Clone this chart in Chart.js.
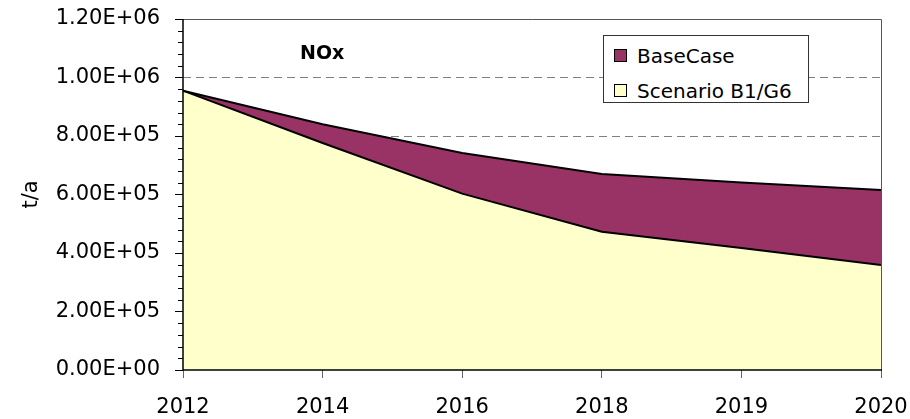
<!DOCTYPE html>
<html>
<head>
<meta charset="utf-8">
<script src="https://cdn.jsdelivr.net/npm/chart.js@4/dist/chart.umd.min.js"></script>
<style>
  body { margin: 0; background: #fff; }
  .wrap { position: relative; width: 910px; height: 419px; font-family: 'DejaVu Sans', Verdana, sans-serif; }
  .note { position: absolute; left: 300px; top: 41px; font-size: 19px; font-weight: bold; }
  .legend { position: absolute; left: 603px; top: 35px; width: 204px; height: 66px; background: #fff; border: 1px solid #333; }
  .legend div { position: absolute; left: 10px; font-size: 20px; line-height: 24px; white-space: nowrap; }
  .legend span { display: inline-block; width: 11px; height: 11px; border: 1px solid #000; margin-right: 10px; vertical-align: 1px; }
</style>
</head>
<body>
<div class="wrap">
  <canvas id="noxChart" width="910" height="419"></canvas>
  <div class="note">NOx</div>
  <div class="legend" id="legend"></div>
</div>
<script>
const years = ['2012', '2014', '2016', '2018', '2019', '2020'];
const baseCase = [955000, 840000, 742000, 670000, 641000, 615000];
const scenario = [955000, 776000, 603000, 473000, 417000, 359000];
const yTickLabels = ['0.00E+00', '2.00E+05', '4.00E+05', '6.00E+05', '8.00E+05', '1.00E+06', '1.20E+06'];

const seriesNames = ['BaseCase', 'Scenario B1/G6'];
const seriesColors = ['#993366', '#FFFFCC'];

// minor ticks + plot frame drawn over the areas
const framePlugin = {
  id: 'frame',
  afterDatasetsDraw(chart) {
    const { ctx, chartArea: a, scales: { y } } = chart;
    ctx.save();
    ctx.lineWidth = 1;
    ctx.strokeStyle = '#555';
    ctx.beginPath();
    ctx.moveTo(a.left, a.top + 0.5);
    ctx.lineTo(a.right + 0.5, a.top + 0.5);
    ctx.lineTo(a.right + 0.5, a.bottom);
    ctx.stroke();
    ctx.strokeStyle = '#000';
    ctx.lineWidth = 1.5;
    ctx.beginPath();
    ctx.moveTo(a.left, a.top);
    ctx.lineTo(a.left, a.bottom);
    ctx.lineTo(a.right + 1, a.bottom);
    ctx.stroke();
    ctx.lineWidth = 1;
    ctx.beginPath();
    for (let v = 0; v <= y.max; v += 40000) {
      if (v % 200000 === 0) continue;
      const py = Math.round(y.getPixelForValue(v)) + 0.5;
      ctx.moveTo(a.left - 5, py);
      ctx.lineTo(a.left, py);
    }
    ctx.stroke();
    ctx.restore();
  }
};

const chart = new Chart(document.getElementById('noxChart'), {
  type: 'line',
  data: {
    labels: years,
    datasets: [
      { label: seriesNames[0], data: baseCase, backgroundColor: seriesColors[0], borderColor: '#000', borderWidth: 2, pointRadius: 0, fill: '+1', tension: 0 },
      { label: seriesNames[1], data: scenario, backgroundColor: seriesColors[1], borderColor: '#000', borderWidth: 2, pointRadius: 0, fill: 'origin', tension: 0 }
    ]
  },
  options: {
    responsive: false,
    animation: false,
    layout: { padding: { top: 19, right: 29, left: 0, bottom: 0 } },
    plugins: { legend: { display: false }, tooltip: { enabled: false }, filler: { drawTime: 'beforeDatasetsDraw' } },
    scales: {
      x: {
        offset: false,
        grid: { drawOnChartArea: false, tickLength: 8, tickColor: '#666' },
        border: { display: false },
        ticks: { color: '#000', font: { family: 'DejaVu Sans', size: 21 }, padding: 17, maxRotation: 0, autoSkip: false },
        afterFit: (s) => { s.height = 49; s.paddingLeft = 0; s.paddingRight = 0; }
      },
      y: {
        min: 0,
        max: 1200000,
        grid: { color: (c) => (c.tick.value > 0 && c.tick.value < 1200000 ? '#808080' : 'rgba(0,0,0,0)'), tickColor: '#000', tickLength: 8, lineWidth: 1 },
        border: { display: false, dash: [8, 5] },
        ticks: { stepSize: 200000, color: '#000', font: { family: 'DejaVu Sans', size: 21 }, padding: 15, callback: (v, i) => yTickLabels[i] },
        title: { display: true, text: 't/a', color: '#000', font: { family: 'DejaVu Sans', size: 21 }, padding: { top: 19, bottom: 0 } },
        afterFit: (s) => { s.width = 183; s.paddingTop = 0; s.paddingBottom = 0; }
      }
    }
  },
  plugins: [framePlugin]
});

const legend = document.getElementById('legend');
chart.data.datasets.forEach((ds, i) => {
  const row = document.createElement('div');
  row.style.top = (8 + i * 35) + 'px';
  row.innerHTML = '<span style="background:' + ds.backgroundColor + '"></span>' + ds.label;
  legend.appendChild(row);
});
</script>
</body>
</html>
